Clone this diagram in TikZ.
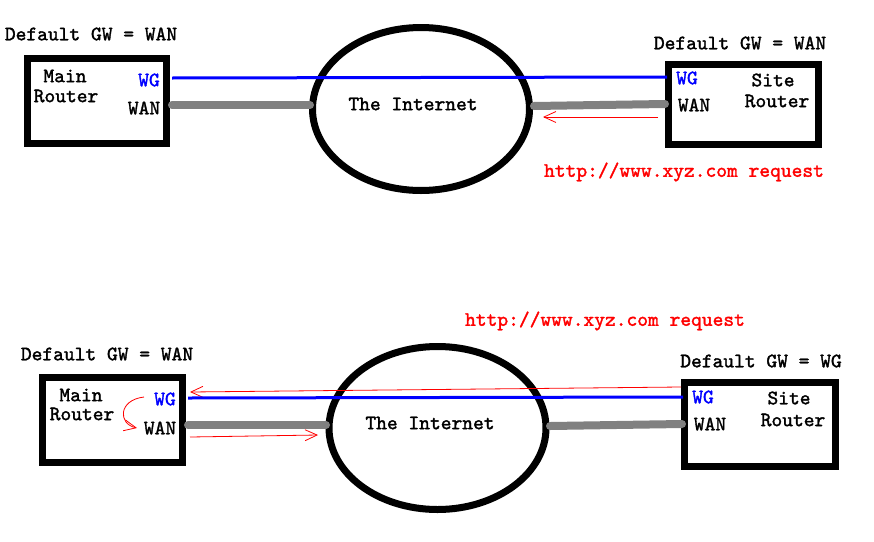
\documentclass[tikz,border=0pt]{standalone}
\usepackage{fontspec}
\newfontfamily\courfont{lmmono10-regular}[Extension=.otf, FakeBold=1.6]
\usetikzlibrary{shapes.geometric,arrows.meta}
\begin{document}
\begin{tikzpicture}[x=1pt,y=-1pt,
  lbl/.style={font=\fontsize{20.5}{22}\courfont, inner sep=0pt},
  box/.style={draw, line width=7pt, inner sep=0pt},
  cloud/.style={draw, ellipse, line width=7pt, inner sep=0pt, minimum width=217pt, minimum height=163pt},
  wanline/.style={draw=gray, line width=8pt, line cap=round},
  wgline/.style={draw=blue, line width=3pt},
  flow/.style={draw=red, line width=0.8pt, -{Straight Barb[length=12pt,width=11pt,line width=0.8pt]}},
  redtxt/.style={lbl, text=red},
  bluetxt/.style={lbl, text=blue}]
\useasboundingbox (0,0) rectangle (874,541);

% ---------- top diagram ----------
\node[lbl] (gwA) at (91,34) {Default GW = WAN};
\node[box, minimum width=139pt, minimum height=85pt] (mainA) at (97,101) {};
\node[lbl] (mainAt1) at (65,76) {Main};
\node[lbl] (mainAt2) at (66,96) {Router};
\node[bluetxt] (wgA) at (149,80) {WG};
\node[lbl] (wanA) at (144,108) {WAN};

\node[cloud] (netA) at (421,109) {};
\node[lbl] (netAt) at (413,104) {The Internet};

\node[box, minimum width=150pt, minimum height=80pt] (siteA) at (743.5,104.5) {};
\node[lbl] (gwB) at (740,43) {Default GW = WAN};
\node[bluetxt] (wgB) at (687,78) {WG};
\node[lbl] (wanB) at (694,105) {WAN};
\node[lbl] (siteAt1) at (773,80) {Site};
\node[lbl] (siteAt2) at (777,101) {Router};
\node[redtxt] (reqA) at (684,172) {http://www.xyz.com request};

\coordinate (a1) at (172,78);
\coordinate (a2) at (667,77);
\coordinate (a3) at (172,105);
\coordinate (a4) at (310,105);
\coordinate (a5) at (534,106);
\coordinate (a6) at (665,104);
\coordinate (a7) at (658,117);
\coordinate (a8) at (543,117);
\draw[wgline] (a1) -- (a2);
\draw[wanline] (a3) -- (a4);
\draw[wanline] (a5) -- (a6);
\draw[flow] (a7) -- (a8);

% ---------- bottom diagram ----------
\node[lbl] (gwC) at (107,354) {Default GW = WAN};
\node[box, minimum width=140pt, minimum height=85pt] (mainC) at (112.5,420) {};
\node[lbl] (mainCt1) at (81,395) {Main};
\node[lbl] (mainCt2) at (82,414) {Router};
\node[bluetxt] (wgC) at (165,399) {WG};
\node[lbl] (wanC) at (160,428) {WAN};

\node[cloud] (netC) at (437.5,428) {};
\node[lbl] (netCt) at (430,423) {The Internet};

\node[box, minimum width=151pt, minimum height=84pt] (siteC) at (760,424.5) {};
\node[lbl] (gwD) at (761,361) {Default GW = WG};
\node[bluetxt] (wgD) at (703,397) {WG};
\node[lbl] (wanD) at (710,424) {WAN};
\node[lbl] (siteCt1) at (789,398) {Site};
\node[lbl] (siteCt2) at (793,420) {Router};
\node[redtxt] (reqC) at (605,321) {http://www.xyz.com request};

\coordinate (c1) at (188,398);
\coordinate (c2) at (683,397);
\coordinate (c3) at (188,425);
\coordinate (c4) at (326,425);
\coordinate (c5) at (550,426);
\coordinate (c6) at (682,424);
\coordinate (c7) at (681,387);
\coordinate (c8) at (190,392);
\coordinate (c9) at (190,437);
\coordinate (c10) at (318,435);
\coordinate (c11) at (144,397);
\coordinate (c12) at (137,428);
\draw[flow] (c7) -- (c8);
\draw[wgline] (c1) -- (c2);
\draw[wanline] (c3) -- (c4);
\draw[wanline] (c5) -- (c6);
\draw[flow] (c9) -- (c10);
\draw[flow] (c11) .. controls (118,400) and (118,424) .. (c12);
\end{tikzpicture}
\end{document}
